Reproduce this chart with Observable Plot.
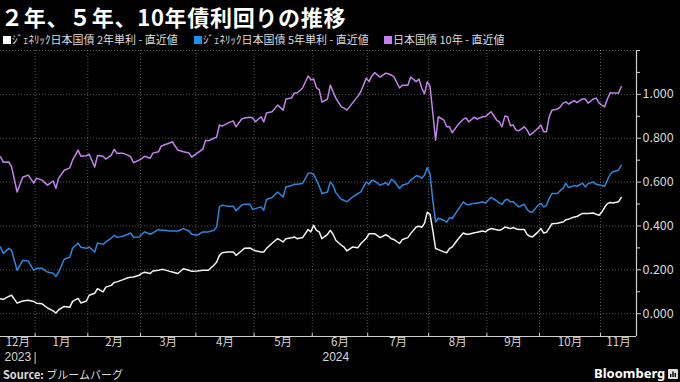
<!DOCTYPE html>
<html><head><meta charset="utf-8">
<script src="https://cdn.jsdelivr.net/npm/d3@7"></script>
<script src="https://cdn.jsdelivr.net/npm/@observablehq/plot@0.6"></script>
<style>
body{margin:0;background:#000;width:680px;height:382px;overflow:hidden;font-family:"Noto Sans CJK JP","Noto Sans",sans-serif;color:#fff}
#title{height:31px;line-height:32px;font-size:22px;font-weight:700;padding-left:1px;white-space:nowrap;letter-spacing:0.7px;overflow:visible}
#legend{position:relative;height:17px;font-size:11px;color:#ddd}
.item{position:absolute;top:0;line-height:17px;white-space:nowrap}
.sw{display:inline-block;width:8px;height:8px;margin-right:1px;vertical-align:0px}
#chart{height:318px}
#footer{position:relative;height:16px;font-size:11px;color:#ddd}
#src{position:absolute;left:3px;top:0;line-height:16px}
#bb{position:absolute;left:594px;top:-1px;line-height:16px;font-size:13px;font-weight:700;color:#fff;font-family:"Noto Sans","Open Sans",sans-serif}
#bb svg{vertical-align:-1px;margin-left:3px}
</style></head><body>
<div id="title">２年、５年、10年債利回りの推移</div>
<div id="legend"></div>
<div id="chart"></div>
<div id="footer"><div id="src"><b>Source:</b> ブルームバーグ</div><div id="bb">Bloomberg<svg width="10" height="10"><rect width="10" height="10" rx="1" fill="#ddd"/><rect x="2" y="5" width="1.4" height="3" fill="#000"/><rect x="4.3" y="2.5" width="1.4" height="5.5" fill="#000"/><rect x="6.6" y="4" width="1.4" height="4" fill="#000"/></svg></div></div>
<script>
const seriesNames = ["ｼﾞｪﾈﾘｯｸ日本国債 2年単利 - 直近値", "ｼﾞｪﾈﾘｯｸ日本国債 5年単利 - 直近値", "日本国債 10年 - 直近値"];
const holidays = ["2024-01-01","2024-01-02","2024-01-03","2024-01-08","2024-02-12","2024-02-23","2024-03-20","2024-04-29","2024-05-03","2024-05-06","2024-07-15","2024-08-12","2024-09-16","2024-09-23","2024-10-14","2024-11-04"];
const dates = [
"2023-12-13","2023-12-14","2023-12-18","2023-12-19","2023-12-21","2023-12-25","2023-12-27","2023-12-29",
"2024-01-04","2024-01-09","2024-01-11","2024-01-15","2024-01-16","2024-01-17","2024-01-19","2024-01-23","2024-01-24","2024-01-26","2024-01-29","2024-01-31",
"2024-02-01","2024-02-05","2024-02-06","2024-02-08","2024-02-09","2024-02-14","2024-02-15","2024-02-16","2024-02-20","2024-02-22","2024-02-26","2024-02-27","2024-02-29",
"2024-03-01","2024-03-04","2024-03-06","2024-03-07","2024-03-11","2024-03-12","2024-03-13","2024-03-15","2024-03-18","2024-03-21","2024-03-25","2024-03-27","2024-03-28",
"2024-04-01","2024-04-03","2024-04-04","2024-04-05","2024-04-09","2024-04-10","2024-04-11","2024-04-12","2024-04-16","2024-04-18","2024-04-19","2024-04-23","2024-04-24","2024-04-26","2024-04-30",
"2024-05-01","2024-05-07","2024-05-08","2024-05-09","2024-05-13","2024-05-15","2024-05-17","2024-05-20","2024-05-22","2024-05-23","2024-05-24","2024-05-28","2024-05-30","2024-05-31",
"2024-06-03","2024-06-04","2024-06-05","2024-06-06","2024-06-10","2024-06-11","2024-06-12","2024-06-13","2024-06-17","2024-06-18","2024-06-19","2024-06-21","2024-06-25","2024-06-26","2024-06-28",
"2024-07-01","2024-07-02","2024-07-03","2024-07-05","2024-07-09","2024-07-10","2024-07-11","2024-07-12","2024-07-17","2024-07-18","2024-07-22","2024-07-23","2024-07-25","2024-07-26","2024-07-29","2024-07-30","2024-07-31",
"2024-08-01","2024-08-02","2024-08-05","2024-08-06","2024-08-08","2024-08-09","2024-08-13","2024-08-14","2024-08-16","2024-08-20","2024-08-21","2024-08-22","2024-08-26","2024-08-27","2024-08-29","2024-08-30",
"2024-09-02","2024-09-03","2024-09-05","2024-09-06","2024-09-09","2024-09-10","2024-09-11","2024-09-12","2024-09-13","2024-09-17","2024-09-18","2024-09-20","2024-09-24","2024-09-25","2024-09-26","2024-09-30",
"2024-10-01","2024-10-02","2024-10-03","2024-10-04","2024-10-07","2024-10-09","2024-10-10","2024-10-11","2024-10-15","2024-10-16","2024-10-18","2024-10-21","2024-10-23","2024-10-24","2024-10-25","2024-10-29","2024-10-30","2024-10-31",
"2024-11-01","2024-11-05","2024-11-06","2024-11-07","2024-11-08","2024-11-12","2024-11-13"];
const jgb10y = [
.715,.691,.692,.669,.555,.622,.632,.595,
.618,.609,.586,.605,.572,.618,.654,.665,.700,.746,.718,.720,
.727,.669,.721,.718,.705,.723,.750,.732,.732,.723,.715,.688,.700,
.707,.718,.709,.732,.738,.764,.769,.778,.784,.746,.738,.733,.714,
.732,.750,.791,.788,.800,.805,.860,.855,.869,.879,.852,.887,.892,.896,.892,
.875,.898,.875,.915,.921,.951,.928,.979,.983,1.006,1.006,1.029,1.084,1.066,
1.070,1.031,1.022,.965,.979,1.042,1.012,.983,.943,.937,.928,.960,.992,1.012,1.074,
1.058,1.084,1.099,1.079,1.097,1.093,1.088,1.080,1.029,1.042,1.042,1.079,1.058,1.070,1.029,1.002,1.058,
1.035,.915,.791,.898,.883,.852,.852,.825,.860,.887,.892,.875,.896,.887,.898,.899,
.910,.921,.883,.875,.852,.901,.898,.857,.860,.837,.834,.852,.837,.814,.823,.846,
.860,.829,.829,.898,.928,.933,.943,.960,.966,.956,.971,.962,.979,.979,.960,.979,.983,.960,
.951,.943,.979,1.007,1.006,1.006,1.035];
const jgb5y = [
.304,.275,.298,.289,.198,.243,.240,.198,
.207,.207,.190,.184,.170,.190,.248,.257,.298,.322,.303,.298,
.304,.281,.322,.316,.327,.345,.358,.348,.353,.362,.368,.348,.350,
.362,.373,.362,.368,.384,.380,.380,.377,.377,.377,.388,.377,.362,
.358,.373,.373,.373,.380,.395,.487,.495,.490,.490,.469,.495,.499,.499,.475,
.479,.487,.472,.521,.530,.555,.532,.578,.584,.590,.590,.594,.639,.642,
.636,.609,.582,.548,.555,.601,.586,.552,.521,.517,.510,.532,.548,.555,.601,
.590,.609,.604,.586,.597,.586,.612,.605,.571,.586,.594,.609,.629,.627,.618,.632,.666,
.636,.517,.418,.435,.426,.417,.437,.434,.472,.510,.499,.497,.504,.504,.510,.505,
.517,.530,.515,.505,.499,.517,.522,.510,.510,.499,.487,.499,.476,.464,.464,.495,
.502,.487,.493,.526,.548,.548,.562,.571,.594,.575,.584,.581,.595,.578,.593,.600,.590,.587,
.584,.581,.609,.636,.647,.654,.677];
const jgb2y = [
.068,.065,.079,.084,.048,.058,.061,.056,
.048,.045,.026,.013,.003,.018,.033,.029,.056,.070,.049,.058,
.084,.093,.114,.099,.121,.129,.142,.145,.154,.164,.166,.167,.175,
.184,.189,.183,.195,.198,.201,.201,.193,.190,.183,.205,.198,.193,
.195,.198,.198,.198,.221,.236,.266,.278,.281,.281,.266,.287,.298,.300,.292,
.287,.281,.281,.298,.321,.342,.327,.342,.346,.350,.342,.347,.384,.373,
.403,.380,.373,.342,.362,.380,.362,.335,.312,.303,.286,.304,.301,.319,.344,
.365,.365,.365,.347,.360,.353,.342,.338,.320,.338,.347,.365,.395,.399,.394,.412,.463,
.453,.380,.297,.292,.282,.278,.297,.304,.338,.368,.362,.362,.369,.371,.377,.373,
.383,.388,.383,.380,.385,.395,.392,.388,.393,.387,.384,.384,.362,.353,.350,.373,
.388,.368,.371,.390,.410,.412,.416,.418,.428,.431,.441,.443,.457,.457,.457,.459,.453,.449,
.464,.485,.502,.507,.505,.510,.530];
const yTicks = [0, 0.2, 0.4, 0.6, 0.8, 1.0];
const yGrid = [0, 0.2, 0.4, 0.6, 0.8, 1.0, 1.2];
const yMinor = [0.1, 0.3, 0.5, 0.7, 0.9, 1.1, 1.2];

const colors = ["#f2f2f2", "#2b87de", "#c483ec"];
const swatches = ["#ffffff", "#1e8ff0", "#c07ef2"];

// trading-day calendar (the chart's x axis counts market days)
const fmt = d3.utcFormat("%Y-%m-%d");
const hol = new Set(holidays);
const first = new Date(dates[0]), last = new Date(dates[dates.length - 1]);
const tdays = d3.utcDays(first, d3.utcDay.offset(last, 1)).filter(d => d.getUTCDay() % 6 !== 0 && !hol.has(fmt(d)));
const idx = new Map(tdays.map((d, i) => [fmt(d), i]));
const xDomain = [0, tdays.length - 1 + 5.5];
const yDomain = [-0.104, 1.2];

const rows = [];
[jgb2y, jgb5y, jgb10y].forEach((arr, k) => arr.forEach((v, j) => rows.push({i: idx.get(dates[j]), v, s: seriesNames[k]})));

// month / year boundaries
const monthBounds = [], yearBounds = [];
for (let i = 1; i < tdays.length; i++) {
  if (tdays[i].getUTCMonth() !== tdays[i-1].getUTCMonth()) monthBounds.push(i - 0.5);
  if (tdays[i].getUTCFullYear() !== tdays[i-1].getUTCFullYear()) yearBounds.push(i - 0.5);
}
const mEdges = [xDomain[0], ...monthBounds, xDomain[1]];
const monthSegs = mEdges.slice(0, -1).map((a, k) => {
  const d = tdays[Math.min(tdays.length - 1, Math.ceil(a))];
  return {m: (a + mEdges[k+1]) / 2, label: (d.getUTCMonth() + 1) + "月"};
});
const yEdges = [xDomain[0], ...yearBounds, xDomain[1]];
const yearSegs = yEdges.slice(0, -1).map((a, k) => ({m: (a + yEdges[k+1]) / 2, label: String(tdays[Math.min(tdays.length - 1, Math.ceil(a))].getUTCFullYear())}));

// legend
const lg = document.getElementById("legend");
const lefts = [3, 194, 384];
seriesNames.forEach((n, k) => {
  const it = document.createElement("div");
  it.className = "item"; it.style.left = lefts[k] + "px";
  it.innerHTML = `<span class="sw" style="background:${swatches[k]}"></span>${n}`;
  lg.appendChild(it);
});

const grid = {stroke: "#9a9a9a", strokeOpacity: 0.55, strokeDasharray: "1,2"};
const chart = Plot.plot({
  width: 680, height: 318,
  marginTop: 2, marginRight: 44, marginBottom: 30, marginLeft: 0,
  style: {background: "#000", color: "#d8d8d8", fontFamily: '"Noto Sans CJK JP","Noto Sans",sans-serif', fontSize: "12px", overflow: "visible"},
  x: {type: "linear", domain: xDomain, axis: null},
  y: {domain: yDomain, axis: null},
  color: {domain: seriesNames, range: colors},
  marks: [
    Plot.ruleY(yGrid, grid),
    Plot.ruleX(monthBounds, grid),
    Plot.lineY(rows, {x: "i", y: "v", z: "s", stroke: "s", strokeWidth: 1.5}),
    Plot.ruleY([yDomain[0]], {stroke: "#cfcfcf", strokeWidth: 1.2}),
    Plot.ruleX([xDomain[1]], {stroke: "#cfcfcf", strokeWidth: 1.2}),
    Plot.ruleX(monthBounds, {stroke: "#cfcfcf", insetTop: 283}),
    Plot.ruleX(yearBounds, {stroke: "#cfcfcf", insetTop: 302, insetBottom: -28}),
    Plot.axisY(yMinor, {anchor: "right", tickSize: 3, tickFormat: () => "", label: null, stroke: "#cfcfcf"}),
    Plot.axisY(yTicks, {anchor: "right", tickSize: 4, tickPadding: 2, tickFormat: d3.format(".3f"), label: null, fontSize: 12.5, fill: "#d8d8d8", stroke: "#cfcfcf"}),
    Plot.text(monthSegs, {x: "m", text: "label", frameAnchor: "bottom", dy: 9, fill: "#d8d8d8", fontSize: 11.5}),
    Plot.text(yearSegs, {x: "m", text: "label", frameAnchor: "bottom", dy: 24, fill: "#d8d8d8", fontSize: 12, fontFamily: '"Liberation Sans","DejaVu Sans",sans-serif'})
  ]
});
document.getElementById("chart").appendChild(chart);
</script>
</body></html>
